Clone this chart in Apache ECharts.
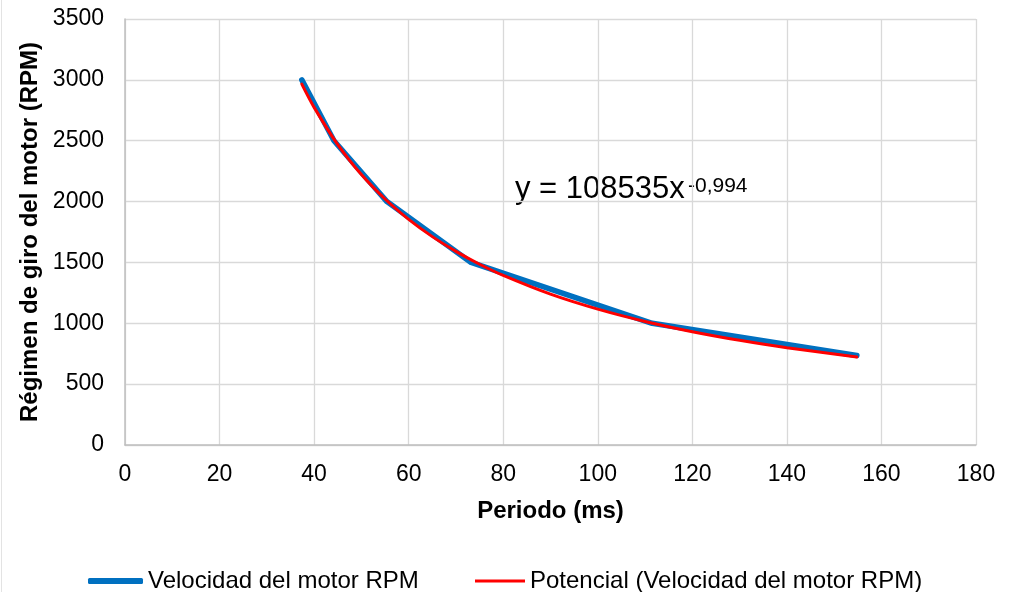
<!DOCTYPE html>
<html>
<head>
<meta charset="utf-8">
<script src="https://cdn.jsdelivr.net/npm/echarts@6/dist/echarts.min.js"></script>
<style>
  html, body { margin: 0; padding: 0; background: #fff; }
  #chart { width: 1015px; height: 592px; }
</style>
</head>
<body>
<div id="chart"></div>
<script>
// measured points (periodo ms, rpm)
const periodo = [37.4, 44.2, 55.4, 73.2, 111.5, 154.8];
const rpm = [3000, 2500, 2000, 1500, 1000, 735];

// trend line
const trendX = [37.4, 40, 45, 50, 55, 60, 65, 70, 75, 80, 90, 100, 110, 120, 130, 140, 154.8];
const trendY = [2965, 2774, 2468, 2222, 2021, 1854, 1712, 1591, 1485, 1393, 1239, 1116, 1015, 931, 860, 799, 723];

const xTicks = [0, 20, 40, 60, 80, 100, 120, 140, 160, 180];
const yTicks = [0, 500, 1000, 1500, 2000, 2500, 3000, 3500];

const font = "'Liberation Sans', Arial, sans-serif";
const blueName = "Velocidad del motor RPM";
const redName = "Potencial (Velocidad del motor RPM)";

const chart = echarts.init(document.getElementById("chart"));

chart.setOption({
  backgroundColor: "#fff",
  animation: false,
  textStyle: { fontFamily: font },
  grid: { left: 125, top: 19, right: 39, bottom: 147 },
  xAxis: {
    type: "value",
    min: xTicks[0],
    max: xTicks[xTicks.length - 1],
    interval: 20,
    name: "Periodo (ms)",
    nameLocation: "middle",
    nameGap: 54,
    nameTextStyle: { fontSize: 24, fontWeight: "bold", color: "#000", fontFamily: font },
    axisLine: { show: true, lineStyle: { color: "#bfbfbf", width: 1.5 } },
    axisTick: { show: false },
    axisLabel: { fontSize: 23, color: "#000", margin: 18, fontFamily: font, formatter: (v) => String(v) },
    splitLine: { show: true, lineStyle: { color: "#d9d9d9", width: 1.3 } },
  },
  yAxis: {
    type: "value",
    min: yTicks[0],
    max: yTicks[yTicks.length - 1],
    interval: 500,
    name: "Régimen de giro del motor (RPM)",
    nameLocation: "middle",
    nameGap: 73,
    nameTextStyle: { fontSize: 24, fontWeight: "bold", color: "#000", fontFamily: font },
    axisLine: { show: true, lineStyle: { color: "#bfbfbf", width: 1.5 } },
    axisTick: { show: false },
    axisLabel: { fontSize: 23, color: "#000", margin: 21, fontFamily: font, formatter: (v) => String(v) },
    splitLine: { show: true, lineStyle: { color: "#d9d9d9", width: 1.3 } },
  },
  legend: [
    {
      data: [{ name: blueName, icon: "roundRect" }],
      left: 83,
      top: 564,
      itemWidth: 55,
      itemHeight: 6,
      textStyle: { fontSize: 24, color: "#000", fontFamily: font },
    },
    {
      data: [{ name: redName, icon: "rect" }],
      left: 470,
      top: 564,
      itemWidth: 50,
      itemHeight: 3,
      textStyle: { fontSize: 24, color: "#000", fontFamily: font },
    },
  ],
  graphic: [
    {
      type: "text",
      left: 515,
      top: 174,
      style: { text: "y = 108535x", font: "31px " + font, fill: "#000" },
    },
    {
      type: "text",
      left: 688,
      top: 176,
      style: { text: "-0,994", font: "21px " + font, fill: "#000" },
    },
    {
      type: "line",
      shape: { x1: 1.5, y1: 0, x2: 1.5, y2: 592 },
      style: { stroke: "#e3e3e3", lineWidth: 1 },
    },
  ],
  series: [
    {
      name: blueName,
      type: "line",
      data: periodo.map((p, i) => [p, rpm[i]]),
      showSymbol: false,
      itemStyle: { color: "#0070c0" },
      lineStyle: { color: "#0070c0", width: 5.5, cap: "round", join: "round" },
    },
    {
      name: redName,
      type: "line",
      data: trendX.map((p, i) => [p, trendY[i]]),
      showSymbol: false,
      smooth: 0.3,
      itemStyle: { color: "#ff0000" },
      lineStyle: { color: "#ff0000", width: 3, cap: "round" },
    },
  ],
});
</script>
</body>
</html>
